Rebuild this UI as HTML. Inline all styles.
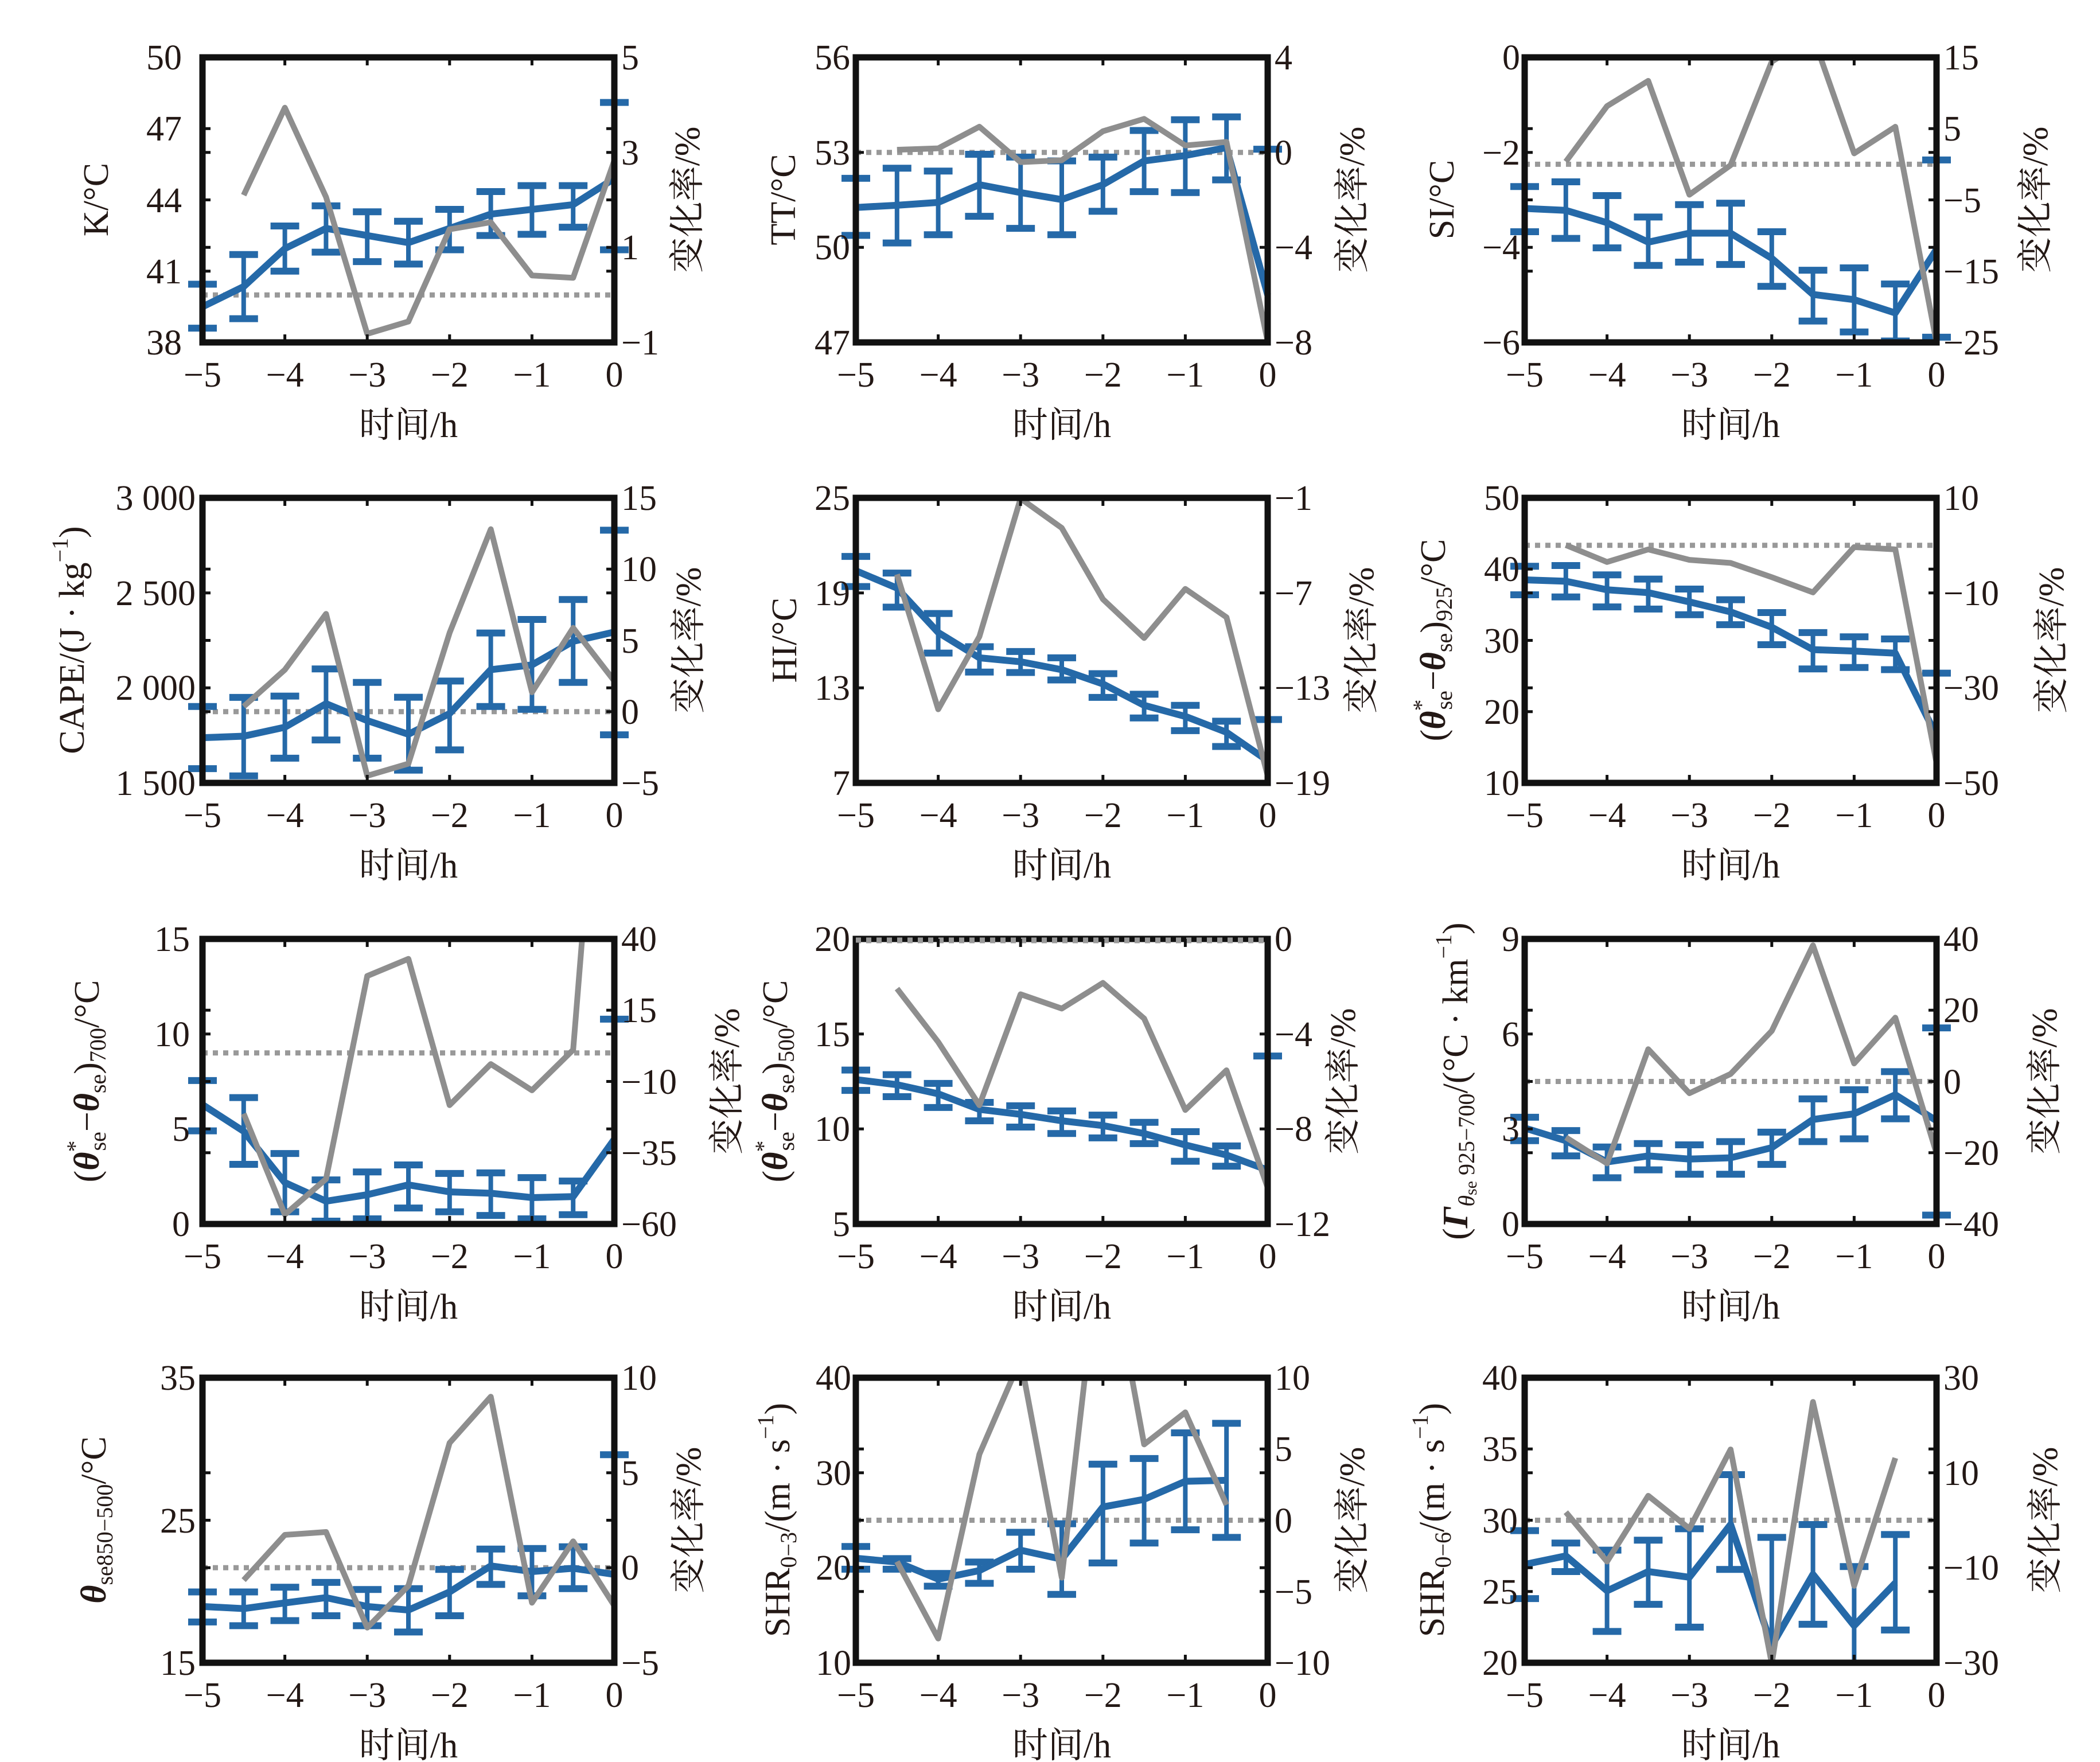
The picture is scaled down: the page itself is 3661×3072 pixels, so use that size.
<!DOCTYPE html>
<html><head><meta charset="utf-8"><style>
html,body{margin:0;padding:0;background:#fff}
svg{display:block}
text{font-family:"Liberation Serif","Noto Serif CJK SC",serif;fill:#231815}
.t{font-size:62px}
.l{font-size:62px}
.b{fill:none;stroke:#2569a8;stroke-width:12;stroke-linejoin:round}
.e{fill:none;stroke:#2569a8;stroke-width:8}
.c{fill:none;stroke:#2569a8;stroke-width:12}
.g{fill:none;stroke:#8e8e8e;stroke-width:10;stroke-linejoin:round}
.d{stroke:#999;stroke-width:9;stroke-dasharray:9 9}
.f{fill:none;stroke:#111;stroke-width:11}
.k{fill:none;stroke:#111;stroke-width:5}
path,polyline{vector-effect:non-scaling-stroke}
</style></head><body>
<svg width="3661" height="3072" viewBox="0 0 3661 3072" xmlns="http://www.w3.org/2000/svg">
<defs><clipPath id="c"><rect x="-40" y="0" width="798" height="497"/></clipPath></defs>

<!-- P1 -->
<g transform="translate(353,100)">
<g clip-path="url(#c)">
<line class="d" x1="0" x2="718" y1="414.2" y2="414.2"/>
<g transform="matrix(143.6 0 0 -41.4167 718 2070.83)">
<path class="e" d="M-5 40.45V38.6M-4.5 41.7V39M-4 42.9V41M-3.5 43.75V41.8M-3 43.5V41.4M-2.5 43.1V41.3M-2 43.6V41.9M-1.5 44.35V42.5M-1 44.6V42.55M-0.5 44.6V42.85M0 48.1V41.9"/>
<path class="c" d="M-5.174 40.45h.348M-5.174 38.6h.348M-4.674 41.7h.348M-4.674 39h.348M-4.174 42.9h.348M-4.174 41h.348M-3.674 43.75h.348M-3.674 41.8h.348M-3.174 43.5h.348M-3.174 41.4h.348M-2.674 43.1h.348M-2.674 41.3h.348M-2.174 43.6h.348M-2.174 41.9h.348M-1.674 44.35h.348M-1.674 42.5h.348M-1.174 44.6h.348M-1.174 42.55h.348M-0.674 44.6h.348M-0.674 42.85h.348M-0.174 48.1h.348M-0.174 41.9h.348"/>
<polyline class="b" points="-5,39.5 -4.5,40.35 -4,41.95 -3.5,42.8 -3,42.5 -2.5,42.2 -2,42.8 -1.5,43.4 -1,43.6 -0.5,43.8 0,44.9"/>
</g>
<g transform="matrix(143.6 0 0 -82.8333 718 414.17)"><polyline class="g" points="-4.5,2.1 -4,3.94 -3.5,2.06 -3,-0.82 -2.5,-0.56 -2,1.38 -1.5,1.53 -1,0.41 -0.5,0.36 0,2.83"/></g>
</g>
<rect class="f" x="0" y="0" width="718" height="497"/>
<path class="k" d="M0 124.25h14M0 165.7h14M0 248.5h14M0 331.3h14M0 372.75h14M718 124.25h-14M718 165.7h-14M718 248.5h-14M718 331.3h-14M718 372.75h-14M143.6 497v-14M287.2 497v-14M430.8 497v-14M574.4 497v-14M143.6 0v14M287.2 0v14M430.8 0v14M574.4 0v14"/>
<g class="t" text-anchor="end"><text x="-36" y="21">50</text><text x="-36" y="145">47</text><text x="-36" y="270">44</text><text x="-36" y="394">41</text><text x="-36" y="518">38</text></g>
<g class="t" text-anchor="start"><text x="730" y="21">5</text><text x="730" y="187">3</text><text x="730" y="352">1</text><text x="730" y="518">−1</text></g>
<g class="t" text-anchor="middle"><text x="0" y="574">−5</text><text x="143.6" y="574">−4</text><text x="287.2" y="574">−3</text><text x="430.8" y="574">−2</text><text x="574.4" y="574">−1</text><text x="718" y="574">0</text><text x="359" y="662">时间/h</text></g>
<text class="l" text-anchor="middle" dominant-baseline="central" transform="translate(-185,248) rotate(-90)">K/°C</text>
<text class="l" text-anchor="middle" dominant-baseline="central" transform="translate(846,248) rotate(-90)">变化率/%</text>
</g>

<!-- P2 -->
<g transform="translate(1492,100)">
<g clip-path="url(#c)">
<line class="d" x1="0" x2="718" y1="165.7" y2="165.7"/>
<g transform="matrix(143.6 0 0 -55.222 718 3092.4)">
<path class="e" d="M-5 52.18V50.38M-4.5 52.5V50.14M-4 52.41V50.4M-3.5 52.94V50.98M-3 52.85V50.6M-2.5 52.73V50.4M-2 52.85V51.14M-1.5 53.69V51.76M-1 54.03V51.73M-0.5 54.12V52.13M0 53.1V43.9"/>
<path class="c" d="M-5.174 52.18h.348M-5.174 50.38h.348M-4.674 52.5h.348M-4.674 50.14h.348M-4.174 52.41h.348M-4.174 50.4h.348M-3.674 52.94h.348M-3.674 50.98h.348M-3.174 52.85h.348M-3.174 50.6h.348M-2.674 52.73h.348M-2.674 50.4h.348M-2.174 52.85h.348M-2.174 51.14h.348M-1.674 53.69h.348M-1.674 51.76h.348M-1.174 54.03h.348M-1.174 51.73h.348M-0.674 54.12h.348M-0.674 52.13h.348M-0.174 53.1h.348"/>
<polyline class="b" points="-5,51.26 -4.5,51.33 -4,51.42 -3.5,51.98 -3,51.73 -2.5,51.51 -2,51.98 -1.5,52.73 -1,52.9 -0.5,53.15 0,48.5"/>
</g>
<g transform="matrix(143.6 0 0 -41.4167 718 165.67)"><polyline class="g" points="-4.5,0.11 -4,0.17 -3.5,1.08 -3,-0.41 -2.5,-0.33 -2,0.89 -1.5,1.41 -1,0.29 -0.5,0.44 0,-7.97"/></g>
</g>
<rect class="f" x="0" y="0" width="718" height="497"/>
<path class="k" d="M0 165.7h14M0 331.3h14M718 165.7h-14M718 331.3h-14M143.6 497v-14M287.2 497v-14M430.8 497v-14M574.4 497v-14M143.6 0v14M287.2 0v14M430.8 0v14M574.4 0v14"/>
<g class="t" text-anchor="end"><text x="-10" y="21">56</text><text x="-10" y="187">53</text><text x="-10" y="352">50</text><text x="-10" y="518">47</text></g>
<g class="t" text-anchor="start"><text x="730" y="21">4</text><text x="730" y="187">0</text><text x="730" y="352">−4</text><text x="730" y="518">−8</text></g>
<g class="t" text-anchor="middle"><text x="0" y="574">−5</text><text x="143.6" y="574">−4</text><text x="287.2" y="574">−3</text><text x="430.8" y="574">−2</text><text x="574.4" y="574">−1</text><text x="718" y="574">0</text><text x="359" y="662">时间/h</text></g>
<text class="l" text-anchor="middle" dominant-baseline="central" transform="translate(-126,248) rotate(-90)">TT/°C</text>
<text class="l" text-anchor="middle" dominant-baseline="central" transform="translate(866,248) rotate(-90)">变化率/%</text>
</g>

<!-- P3 -->
<g transform="translate(2658,100)">
<g clip-path="url(#c)">
<line class="d" x1="0" x2="718" y1="186.4" y2="186.4"/>
<g transform="matrix(143.6 0 0 -82.833 718 0)">
<path class="e" d="M-5 -2.72V-3.67M-4.5 -2.62V-3.81M-4 -2.91V-4.01M-3.5 -3.36V-4.38M-3 -3.1V-4.31M-2.5 -3.07V-4.36M-2 -3.67V-4.82M-1.5 -4.48V-5.55M-1 -4.43V-5.78M-0.5 -4.77V-5.97M0 -2.16V-5.89"/>
<path class="c" d="M-5.174 -2.72h.348M-5.174 -3.67h.348M-4.674 -2.62h.348M-4.674 -3.81h.348M-4.174 -2.91h.348M-4.174 -4.01h.348M-3.674 -3.36h.348M-3.674 -4.38h.348M-3.174 -3.1h.348M-3.174 -4.31h.348M-2.674 -3.07h.348M-2.674 -4.36h.348M-2.174 -3.67h.348M-2.174 -4.82h.348M-1.674 -4.48h.348M-1.674 -5.55h.348M-1.174 -4.43h.348M-1.174 -5.78h.348M-0.674 -4.77h.348M-0.674 -5.97h.348M-0.174 -2.16h.348M-0.174 -5.89h.348"/>
<polyline class="b" points="-5,-3.18 -4.5,-3.22 -4,-3.48 -3.5,-3.89 -3,-3.7 -2.5,-3.7 -2,-4.23 -1.5,-4.99 -1,-5.1 -0.5,-5.38 0,-4.04"/>
</g>
<g transform="matrix(143.6 0 0 -12.425 718 186.4)"><polyline class="g" points="-4.5,0.37 -4,8.16 -3.5,11.7 -3,-4.27 -2.5,-0.13 -2,14.4 -1.5,18 -1,1.53 -0.5,5.26 0,-25"/></g>
</g>
<rect class="f" x="0" y="0" width="718" height="497"/>
<path class="k" d="M0 124.25h14M0 165.7h14M0 248.5h14M0 331.3h14M0 372.75h14M718 124.25h-14M718 165.7h-14M718 248.5h-14M718 331.3h-14M718 372.75h-14M143.6 497v-14M287.2 497v-14M430.8 497v-14M574.4 497v-14M143.6 0v14M287.2 0v14M430.8 0v14M574.4 0v14"/>
<g class="t" text-anchor="end"><text x="-8" y="21">0</text><text x="-8" y="187">−2</text><text x="-8" y="352">−4</text><text x="-8" y="518">−6</text></g>
<g class="t" text-anchor="start"><text x="730" y="21">15</text><text x="730" y="145">5</text><text x="730" y="270">−5</text><text x="730" y="394">−15</text><text x="730" y="518">−25</text></g>
<g class="t" text-anchor="middle"><text x="0" y="574">−5</text><text x="143.6" y="574">−4</text><text x="287.2" y="574">−3</text><text x="430.8" y="574">−2</text><text x="574.4" y="574">−1</text><text x="718" y="574">0</text><text x="359" y="662">时间/h</text></g>
<text class="l" text-anchor="middle" dominant-baseline="central" transform="translate(-144,248) rotate(-90)">SI/°C</text>
<text class="l" text-anchor="middle" dominant-baseline="central" transform="translate(891,248) rotate(-90)">变化率/%</text>
</g>

<!-- P4 -->
<g transform="translate(353,868)">
<g clip-path="url(#c)">
<line class="d" x1="0" x2="718" y1="372.75" y2="372.75"/>
<g transform="matrix(143.6 0 0 -0.331333 718 994)">
<path class="e" d="M-5 1902V1575M-4.5 1950V1537M-4 1957V1630M-3.5 2100V1726M-3 2029V1630M-2.5 1951V1567M-2 2036V1674M-1.5 2289V1902M-1 2360V1887M-0.5 2465V2029M0 2830V1753"/>
<path class="c" d="M-5.174 1902h.348M-5.174 1575h.348M-4.674 1950h.348M-4.674 1537h.348M-4.174 1957h.348M-4.174 1630h.348M-3.674 2100h.348M-3.674 1726h.348M-3.174 2029h.348M-3.174 1630h.348M-2.674 1951h.348M-2.674 1567h.348M-2.174 2036h.348M-2.174 1674h.348M-1.674 2289h.348M-1.674 1902h.348M-1.174 2360h.348M-1.174 1887h.348M-0.674 2465h.348M-0.674 2029h.348M-0.174 2830h.348M-0.174 1753h.348"/>
<polyline class="b" points="-5,1738 -4.5,1746 -4,1793 -3.5,1917 -3,1828 -2.5,1756 -2,1865 -1.5,2096 -1,2121 -0.5,2245 0,2294"/>
</g>
<g transform="matrix(143.6 0 0 -24.85 718 372.75)"><polyline class="g" points="-4.5,0.36 -4,2.94 -3.5,6.86 -3,-4.5 -2.5,-3.65 -2,5.53 -1.5,12.8 -1,1.36 -0.5,5.88 0,2.15"/></g>
</g>
<rect class="f" x="0" y="0" width="718" height="497"/>
<path class="k" d="M0 124.25h14M0 165.7h14M0 248.5h14M0 331.3h14M0 372.75h14M718 124.25h-14M718 165.7h-14M718 248.5h-14M718 331.3h-14M718 372.75h-14M143.6 497v-14M287.2 497v-14M430.8 497v-14M574.4 497v-14M143.6 0v14M287.2 0v14M430.8 0v14M574.4 0v14"/>
<g class="t" text-anchor="end"><text x="-12" y="21">3 000</text><text x="-12" y="187">2 500</text><text x="-12" y="352">2 000</text><text x="-12" y="518">1 500</text></g>
<g class="t" text-anchor="start"><text x="730" y="21">15</text><text x="730" y="145">10</text><text x="730" y="270">5</text><text x="730" y="394">0</text><text x="730" y="518">−5</text></g>
<g class="t" text-anchor="middle"><text x="0" y="574">−5</text><text x="143.6" y="574">−4</text><text x="287.2" y="574">−3</text><text x="430.8" y="574">−2</text><text x="574.4" y="574">−1</text><text x="718" y="574">0</text><text x="359" y="662">时间/h</text></g>
<text class="l" text-anchor="middle" dominant-baseline="central" transform="translate(-227,248) rotate(-90)">CAPE/(J · kg<tspan font-size="40" dy="-22">−1</tspan><tspan dy="22">)</tspan></text>
<text class="l" text-anchor="middle" dominant-baseline="central" transform="translate(848,248) rotate(-90)">变化率/%</text>
</g>

<!-- P5 -->
<g transform="translate(1492,868)">
<g clip-path="url(#c)">
<g transform="matrix(143.6 0 0 -27.611 718 690.28)">
<path class="e" d="M-5 21.3V19.4M-4.5 20.25V18.1M-4 17.7V15.2M-3.5 15.6V14M-3 15.3V13.97M-2.5 14.9V13.5M-2 13.9V12.4M-1.5 12.6V11.1M-1 11.9V10.3M-0.5 10.9V9.3M0 11V5.8"/>
<path class="c" d="M-5.174 21.3h.348M-5.174 19.4h.348M-4.674 20.25h.348M-4.674 18.1h.348M-4.174 17.7h.348M-4.174 15.2h.348M-3.674 15.6h.348M-3.674 14h.348M-3.174 15.3h.348M-3.174 13.97h.348M-2.674 14.9h.348M-2.674 13.5h.348M-2.174 13.9h.348M-2.174 12.4h.348M-1.674 12.6h.348M-1.674 11.1h.348M-1.174 11.9h.348M-1.174 10.3h.348M-0.674 10.9h.348M-0.674 9.3h.348M-0.174 11h.348"/>
<polyline class="b" points="-5,20.4 -4.5,19.3 -4,16.5 -3.5,14.9 -3,14.65 -2.5,14.15 -2,13.25 -1.5,11.9 -1,11.2 -0.5,10.2 0,8.4"/>
</g>
<g transform="matrix(143.6 0 0 -27.611 718 -27.61)"><polyline class="g" points="-4.5,-5.83 -4,-14.35 -3.5,-9.76 -3,-1.04 -2.5,-2.9 -2,-7.4 -1.5,-9.85 -1,-6.75 -0.5,-8.54 0,-18.55"/></g>
</g>
<rect class="f" x="0" y="0" width="718" height="497"/>
<path class="k" d="M0 165.7h14M0 331.3h14M718 165.7h-14M718 331.3h-14M143.6 497v-14M287.2 497v-14M430.8 497v-14M574.4 497v-14M143.6 0v14M287.2 0v14M430.8 0v14M574.4 0v14"/>
<g class="t" text-anchor="end"><text x="-10" y="21">25</text><text x="-10" y="187">19</text><text x="-10" y="352">13</text><text x="-10" y="518">7</text></g>
<g class="t" text-anchor="start"><text x="730" y="21">−1</text><text x="730" y="187">−7</text><text x="730" y="352">−13</text><text x="730" y="518">−19</text></g>
<g class="t" text-anchor="middle"><text x="0" y="574">−5</text><text x="143.6" y="574">−4</text><text x="287.2" y="574">−3</text><text x="430.8" y="574">−2</text><text x="574.4" y="574">−1</text><text x="718" y="574">0</text><text x="359" y="662">时间/h</text></g>
<text class="l" text-anchor="middle" dominant-baseline="central" transform="translate(-124,248) rotate(-90)">HI/°C</text>
<text class="l" text-anchor="middle" dominant-baseline="central" transform="translate(882,248) rotate(-90)">变化率/%</text>
</g>

<!-- P6 -->
<g transform="translate(2658,868)">
<g clip-path="url(#c)">
<line class="d" x1="0" x2="718" y1="82.8" y2="82.8"/>
<g transform="matrix(143.6 0 0 -12.425 718 621.25)">
<path class="e" d="M-5 40.4V36.4M-4.5 40.5V36.1M-4 39.2V34.7M-3.5 38.6V34.4M-3 37.2V33.6M-2.5 35.7V32.2M-2 33.9V29.4M-1.5 31.1V26M-1 30.5V26.2M-0.5 30.2V25.9M0 25.4V7.8"/>
<path class="c" d="M-5.174 40.4h.348M-5.174 36.4h.348M-4.674 40.5h.348M-4.674 36.1h.348M-4.174 39.2h.348M-4.174 34.7h.348M-3.674 38.6h.348M-3.674 34.4h.348M-3.174 37.2h.348M-3.174 33.6h.348M-2.674 35.7h.348M-2.674 32.2h.348M-2.174 33.9h.348M-2.174 29.4h.348M-1.674 31.1h.348M-1.674 26h.348M-1.174 30.5h.348M-1.174 26.2h.348M-0.674 30.2h.348M-0.674 25.9h.348M-0.174 25.4h.348"/>
<polyline class="b" points="-5,38.5 -4.5,38.3 -4,37.1 -3.5,36.7 -3,35.4 -2.5,34 -2,31.85 -1.5,28.7 -1,28.5 -0.5,28.2 0,16.6"/>
</g>
<g transform="matrix(143.6 0 0 -8.2833 718 82.83)"><polyline class="g" points="-4.5,0.05 -4,-3.5 -3.5,-0.85 -3,-3.05 -2.5,-3.7 -2,-6.7 -1.5,-9.9 -1,-0.37 -0.5,-0.85 0,-45.8"/></g>
</g>
<rect class="f" x="0" y="0" width="718" height="497"/>
<path class="k" d="M0 124.25h14M0 165.7h14M0 248.5h14M0 331.3h14M0 372.75h14M718 124.25h-14M718 165.7h-14M718 248.5h-14M718 331.3h-14M718 372.75h-14M143.6 497v-14M287.2 497v-14M430.8 497v-14M574.4 497v-14M143.6 0v14M287.2 0v14M430.8 0v14M574.4 0v14"/>
<g class="t" text-anchor="end"><text x="-9" y="21">50</text><text x="-9" y="145">40</text><text x="-9" y="270">30</text><text x="-9" y="394">20</text><text x="-9" y="518">10</text></g>
<g class="t" text-anchor="start"><text x="730" y="21">10</text><text x="730" y="187">−10</text><text x="730" y="352">−30</text><text x="730" y="518">−50</text></g>
<g class="t" text-anchor="middle"><text x="0" y="574">−5</text><text x="143.6" y="574">−4</text><text x="287.2" y="574">−3</text><text x="430.8" y="574">−2</text><text x="574.4" y="574">−1</text><text x="718" y="574">0</text><text x="359" y="662">时间/h</text></g>
<text class="l" text-anchor="middle" dominant-baseline="central" transform="translate(-159,248) rotate(-90)">(<tspan font-style="italic" font-weight="bold">θ</tspan><tspan font-size="40" dy="-22">*</tspan><tspan font-size="40" dx="-18" dy="40">se</tspan><tspan dy="-18">−</tspan><tspan font-style="italic" font-weight="bold">θ</tspan><tspan font-size="40" dy="18">se</tspan><tspan dy="-18">)</tspan><tspan font-size="40" dy="18">925</tspan><tspan dy="-18">/°C</tspan></text>
<text class="l" text-anchor="middle" dominant-baseline="central" transform="translate(919,248) rotate(-90)">变化率/%</text>
</g>

<!-- P7 -->
<g transform="translate(353,1637)">
<g clip-path="url(#c)">
<line class="d" x1="0" x2="718" y1="198.8" y2="198.8"/>
<g transform="matrix(143.6 0 0 -33.133 718 497)">
<path class="e" d="M-5 7.55V4.9M-4.5 6.65V3.14M-4 3.71V0.64M-3.5 2.32V0.15M-3 2.74V0.27M-2.5 3.11V0.84M-2 2.66V0.64M-1.5 2.69V0.45M-1 2.44V0.27M-0.5 2.26V0.49M0 10.78V-1.9"/>
<path class="c" d="M-5.174 7.55h.348M-5.174 4.9h.348M-4.674 6.65h.348M-4.674 3.14h.348M-4.174 3.71h.348M-4.174 0.64h.348M-3.674 2.32h.348M-3.674 0.15h.348M-3.174 2.74h.348M-3.174 0.27h.348M-2.674 3.11h.348M-2.674 0.84h.348M-2.174 2.66h.348M-2.174 0.64h.348M-1.674 2.69h.348M-1.674 0.45h.348M-1.174 2.44h.348M-1.174 0.27h.348M-0.674 2.26h.348M-0.674 0.49h.348M-0.174 10.78h.348"/>
<polyline class="b" points="-5,6.28 -4.5,4.88 -4,2.18 -3.5,1.2 -3,1.54 -2.5,2.06 -2,1.69 -1.5,1.62 -1,1.39 -0.5,1.44 0,4.46"/>
</g>
<g transform="matrix(143.6 0 0 -4.97 718 198.8)"><polyline class="g" points="-4.5,-21.3 -4,-56.7 -3.5,-44.2 -3,27 -2.5,33 -2,-18.3 -1.5,-3.9 -1,-13.1 -0.5,1.1 0,180"/></g>
</g>
<rect class="f" x="0" y="0" width="718" height="497"/>
<path class="k" d="M0 124.25h14M0 165.7h14M0 248.5h14M0 331.3h14M0 372.75h14M718 124.25h-14M718 165.7h-14M718 248.5h-14M718 331.3h-14M718 372.75h-14M143.6 497v-14M287.2 497v-14M430.8 497v-14M574.4 497v-14M143.6 0v14M287.2 0v14M430.8 0v14M574.4 0v14"/>
<g class="t" text-anchor="end"><text x="-22" y="21">15</text><text x="-22" y="187">10</text><text x="-22" y="352">5</text><text x="-22" y="518">0</text></g>
<g class="t" text-anchor="start"><text x="730" y="21">40</text><text x="730" y="145">15</text><text x="730" y="270">−10</text><text x="730" y="394">−35</text><text x="730" y="518">−60</text></g>
<g class="t" text-anchor="middle"><text x="0" y="574">−5</text><text x="143.6" y="574">−4</text><text x="287.2" y="574">−3</text><text x="430.8" y="574">−2</text><text x="574.4" y="574">−1</text><text x="718" y="574">0</text><text x="359" y="662">时间/h</text></g>
<text class="l" text-anchor="middle" dominant-baseline="central" transform="translate(-201,248) rotate(-90)">(<tspan font-style="italic" font-weight="bold">θ</tspan><tspan font-size="40" dy="-22">*</tspan><tspan font-size="40" dx="-18" dy="40">se</tspan><tspan dy="-18">−</tspan><tspan font-style="italic" font-weight="bold">θ</tspan><tspan font-size="40" dy="18">se</tspan><tspan dy="-18">)</tspan><tspan font-size="40" dy="18">700</tspan><tspan dy="-18">/°C</tspan></text>
<text class="l" text-anchor="middle" dominant-baseline="central" transform="translate(915,248) rotate(-90)">变化率/%</text>
</g>

<!-- P8 -->
<g transform="translate(1492,1637)">
<g clip-path="url(#c)">
<line class="d" x1="0" x2="718" y1="3" y2="3"/>
<g transform="matrix(143.6 0 0 -33.133 718 662.67)">
<path class="e" d="M-5 13.1V12.03M-4.5 12.86V11.7M-4 12.4V11.13M-3.5 11.4V10.43M-3 11.22V10.1M-2.5 10.95V9.76M-2 10.73V9.53M-1.5 10.35V9.23M-1 9.86V8.3M-0.5 9.11V8.04M0 13.84V1.8"/>
<path class="c" d="M-5.174 13.1h.348M-5.174 12.03h.348M-4.674 12.86h.348M-4.674 11.7h.348M-4.174 12.4h.348M-4.174 11.13h.348M-3.674 11.4h.348M-3.674 10.43h.348M-3.174 11.22h.348M-3.174 10.1h.348M-2.674 10.95h.348M-2.674 9.76h.348M-2.174 10.73h.348M-2.174 9.53h.348M-1.674 10.35h.348M-1.674 9.23h.348M-1.174 9.86h.348M-1.174 8.3h.348M-0.674 9.11h.348M-0.674 8.04h.348M-0.174 13.84h.348"/>
<polyline class="b" points="-5,12.6 -4.5,12.33 -4,11.85 -3.5,11.03 -3,10.77 -2.5,10.43 -2,10.18 -1.5,9.76 -1,9.16 -0.5,8.63 0,7.84"/>
</g>
<g transform="matrix(143.6 0 0 -41.4167 718 0)"><polyline class="g" points="-4.5,-2.09 -4,-4.34 -3.5,-7 -3,-2.33 -2.5,-2.93 -2,-1.85 -1.5,-3.35 -1,-7.2 -0.5,-5.53 0,-10.47"/></g>
</g>
<rect class="f" x="0" y="0" width="718" height="497"/>
<line class="d" x1="0" x2="718" y1="2" y2="2"/>
<path class="k" d="M0 165.7h14M0 331.3h14M718 165.7h-14M718 331.3h-14M143.6 497v-14M287.2 497v-14M430.8 497v-14M574.4 497v-14M143.6 0v14M287.2 0v14M430.8 0v14M574.4 0v14"/>
<g class="t" text-anchor="end"><text x="-10" y="21">20</text><text x="-10" y="187">15</text><text x="-10" y="352">10</text><text x="-10" y="518">5</text></g>
<g class="t" text-anchor="start"><text x="730" y="21">0</text><text x="730" y="187">−4</text><text x="730" y="352">−8</text><text x="730" y="518">−12</text></g>
<g class="t" text-anchor="middle"><text x="0" y="574">−5</text><text x="143.6" y="574">−4</text><text x="287.2" y="574">−3</text><text x="430.8" y="574">−2</text><text x="574.4" y="574">−1</text><text x="718" y="574">0</text><text x="359" y="662">时间/h</text></g>
<text class="l" text-anchor="middle" dominant-baseline="central" transform="translate(-140,248) rotate(-90)">(<tspan font-style="italic" font-weight="bold">θ</tspan><tspan font-size="40" dy="-22">*</tspan><tspan font-size="40" dx="-18" dy="40">se</tspan><tspan dy="-18">−</tspan><tspan font-style="italic" font-weight="bold">θ</tspan><tspan font-size="40" dy="18">se</tspan><tspan dy="-18">)</tspan><tspan font-size="40" dy="18">500</tspan><tspan dy="-18">/°C</tspan></text>
<text class="l" text-anchor="middle" dominant-baseline="central" transform="translate(850,248) rotate(-90)">变化率/%</text>
</g>

<!-- P9 -->
<g transform="translate(2658,1637)">
<g clip-path="url(#c)">
<line class="d" x1="0" x2="718" y1="248.5" y2="248.5"/>
<g transform="matrix(143.6 0 0 -55.222 718 497)">
<path class="e" d="M-5 3.37V2.63M-4.5 2.95V2.15M-4 2.43V1.46M-3.5 2.54V1.71M-3 2.5V1.57M-2.5 2.6V1.57M-2 2.9V1.88M-1.5 3.95V2.6M-1 4.24V2.69M-0.5 4.81V3.32M0 6.19V0.28"/>
<path class="c" d="M-5.174 3.37h.348M-5.174 2.63h.348M-4.674 2.95h.348M-4.674 2.15h.348M-4.174 2.43h.348M-4.174 1.46h.348M-3.674 2.54h.348M-3.674 1.71h.348M-3.174 2.5h.348M-3.174 1.57h.348M-2.674 2.6h.348M-2.674 1.57h.348M-2.174 2.9h.348M-2.174 1.88h.348M-1.674 3.95h.348M-1.674 2.6h.348M-1.174 4.24h.348M-1.174 2.69h.348M-0.674 4.81h.348M-0.674 3.32h.348M-0.174 6.19h.348M-0.174 0.28h.348"/>
<polyline class="b" points="-5,3.03 -4.5,2.63 -4,1.96 -3.5,2.15 -3,2.05 -2.5,2.09 -2,2.41 -1.5,3.3 -1,3.48 -0.5,4.08 0,3.26"/>
</g>
<g transform="matrix(143.6 0 0 -6.2125 718 248.5)"><polyline class="g" points="-4.5,-15.7 -4,-23 -3.5,9.05 -3,-3.3 -2.5,2.1 -2,14.2 -1.5,38.2 -1,5.06 -0.5,17.9 0,-20.2"/></g>
</g>
<rect class="f" x="0" y="0" width="718" height="497"/>
<path class="k" d="M0 124.25h14M0 165.7h14M0 248.5h14M0 331.3h14M0 372.75h14M718 124.25h-14M718 165.7h-14M718 248.5h-14M718 331.3h-14M718 372.75h-14M143.6 497v-14M287.2 497v-14M430.8 497v-14M574.4 497v-14M143.6 0v14M287.2 0v14M430.8 0v14M574.4 0v14"/>
<g class="t" text-anchor="end"><text x="-9" y="21">9</text><text x="-9" y="187">6</text><text x="-9" y="352">3</text><text x="-9" y="518">0</text></g>
<g class="t" text-anchor="start"><text x="730" y="21">40</text><text x="730" y="145">20</text><text x="730" y="270">0</text><text x="730" y="394">−20</text><text x="730" y="518">−40</text></g>
<g class="t" text-anchor="middle"><text x="0" y="574">−5</text><text x="143.6" y="574">−4</text><text x="287.2" y="574">−3</text><text x="430.8" y="574">−2</text><text x="574.4" y="574">−1</text><text x="718" y="574">0</text><text x="359" y="662">时间/h</text></g>
<text class="l" text-anchor="middle" dominant-baseline="central" transform="translate(-120,248) rotate(-90)">(<tspan font-style="italic" font-weight="bold">Γ</tspan><tspan font-size="40" dy="18" font-style="italic">θ</tspan><tspan font-size="30" dy="8">se</tspan><tspan font-size="40" dy="-8"> 925−700</tspan><tspan dy="-18">/(°C · km</tspan><tspan font-size="40" dy="-22">−1</tspan><tspan dy="22">)</tspan></text>
<text class="l" text-anchor="middle" dominant-baseline="central" transform="translate(907,248) rotate(-90)">变化率/%</text>
</g>

<!-- P10 -->
<g transform="translate(353,2402)">
<g clip-path="url(#c)">
<line class="d" x1="0" x2="718" y1="331.3" y2="331.3"/>
<g transform="matrix(143.6 0 0 -24.85 718 869.75)">
<path class="e" d="M-5 19.97V17.86M-4.5 19.97V17.6M-4 20.3V17.96M-3.5 20.64V18.3M-3 20.14V17.6M-2.5 20.2V17.16M-2 21.55V18.3M-1.5 22.98V20.5M-1 23.02V19.7M-0.5 23.14V20.2M0 29.6V12.8"/>
<path class="c" d="M-5.174 19.97h.348M-5.174 17.86h.348M-4.674 19.97h.348M-4.674 17.6h.348M-4.174 20.3h.348M-4.174 17.96h.348M-3.674 20.64h.348M-3.674 18.3h.348M-3.174 20.14h.348M-3.174 17.6h.348M-2.674 20.2h.348M-2.674 17.16h.348M-2.174 21.55h.348M-2.174 18.3h.348M-1.674 22.98h.348M-1.674 20.5h.348M-1.174 23.02h.348M-1.174 19.7h.348M-0.674 23.14h.348M-0.674 20.2h.348M-0.174 29.6h.348"/>
<polyline class="b" points="-5,18.95 -4.5,18.8 -4,19.2 -3.5,19.57 -3,18.95 -2.5,18.7 -2,19.97 -1.5,21.8 -1,21.4 -0.5,21.63 0,21.2"/>
</g>
<g transform="matrix(143.6 0 0 -33.133 718 331.33)"><polyline class="g" points="-4.5,-0.65 -4,1.73 -3.5,1.88 -3,-3.15 -2.5,-0.95 -2,6.57 -1.5,9 -1,-1.84 -0.5,1.39 0,-2"/></g>
</g>
<rect class="f" x="0" y="0" width="718" height="497"/>
<path class="k" d="M0 165.7h14M0 248.5h14M0 331.3h14M718 165.7h-14M718 248.5h-14M718 331.3h-14M143.6 497v-14M287.2 497v-14M430.8 497v-14M574.4 497v-14M143.6 0v14M287.2 0v14M430.8 0v14M574.4 0v14"/>
<g class="t" text-anchor="end"><text x="-12" y="21">35</text><text x="-12" y="270">25</text><text x="-12" y="518">15</text></g>
<g class="t" text-anchor="start"><text x="730" y="21">10</text><text x="730" y="187">5</text><text x="730" y="352">0</text><text x="730" y="518">−5</text></g>
<g class="t" text-anchor="middle"><text x="0" y="574">−5</text><text x="143.6" y="574">−4</text><text x="287.2" y="574">−3</text><text x="430.8" y="574">−2</text><text x="574.4" y="574">−1</text><text x="718" y="574">0</text><text x="359" y="662">时间/h</text></g>
<text class="l" text-anchor="middle" dominant-baseline="central" transform="translate(-189,248) rotate(-90)"><tspan font-style="italic" font-weight="bold">θ</tspan><tspan font-size="40" dy="18">se850−500</tspan><tspan dy="-18">/°C</tspan></text>
<text class="l" text-anchor="middle" dominant-baseline="central" transform="translate(848,248) rotate(-90)">变化率/%</text>
</g>

<!-- P11 -->
<g transform="translate(1492,2402)">
<g clip-path="url(#c)">
<line class="d" x1="0" x2="718" y1="248.5" y2="248.5"/>
<g transform="matrix(143.6 0 0 -16.5667 718 662.67)">
<path class="e" d="M-5 22.24V19.85M-4.5 20.96V19.85M-4 19.4V18.06M-3.5 20.6V18.36M-3 23.73V19.85M-2.5 24.63V17.2M-2 30.9V20.5M-1.5 31.5V22.6M-1 34.2V24M-0.5 35.2V23.2"/>
<path class="c" d="M-5.174 22.24h.348M-5.174 19.85h.348M-4.674 20.96h.348M-4.674 19.85h.348M-4.174 19.4h.348M-4.174 18.06h.348M-3.674 20.6h.348M-3.674 18.36h.348M-3.174 23.73h.348M-3.174 19.85h.348M-2.674 24.63h.348M-2.674 17.2h.348M-2.174 30.9h.348M-2.174 20.5h.348M-1.674 31.5h.348M-1.674 22.6h.348M-1.174 34.2h.348M-1.174 24h.348M-0.674 35.2h.348M-0.674 23.2h.348"/>
<polyline class="b" points="-5,21 -4.5,20.6 -4,18.8 -3.5,19.7 -3,21.85 -2.5,20.9 -2,26.4 -1.5,27.2 -1,29.1 -0.5,29.2"/>
</g>
<g transform="matrix(143.6 0 0 -24.85 718 248.5)"><polyline class="g" points="-4.5,-2.9 -4,-8.3 -3.5,4.63 -3,11.3 -2.5,-4.03 -2,21 -1.5,5.32 -1,7.57 -0.5,1.08"/></g>
</g>
<rect class="f" x="0" y="0" width="718" height="497"/>
<path class="k" d="M0 124.25h14M0 165.7h14M0 248.5h14M0 331.3h14M0 372.75h14M718 124.25h-14M718 165.7h-14M718 248.5h-14M718 331.3h-14M718 372.75h-14M143.6 497v-14M287.2 497v-14M430.8 497v-14M574.4 497v-14M143.6 0v14M287.2 0v14M430.8 0v14M574.4 0v14"/>
<g class="t" text-anchor="end"><text x="-8" y="21">40</text><text x="-8" y="187">30</text><text x="-8" y="352">20</text><text x="-8" y="518">10</text></g>
<g class="t" text-anchor="start"><text x="730" y="21">10</text><text x="730" y="145">5</text><text x="730" y="270">0</text><text x="730" y="394">−5</text><text x="730" y="518">−10</text></g>
<g class="t" text-anchor="middle"><text x="0" y="574">−5</text><text x="143.6" y="574">−4</text><text x="287.2" y="574">−3</text><text x="430.8" y="574">−2</text><text x="574.4" y="574">−1</text><text x="718" y="574">0</text><text x="359" y="662">时间/h</text></g>
<text class="l" text-anchor="middle" dominant-baseline="central" transform="translate(-136,248) rotate(-90)">SHR<tspan font-size="40" dy="18">0−3</tspan><tspan dy="-18">/(m · s</tspan><tspan font-size="40" dy="-22">−1</tspan><tspan dy="22">)</tspan></text>
<text class="l" text-anchor="middle" dominant-baseline="central" transform="translate(866,248) rotate(-90)">变化率/%</text>
</g>

<!-- P12 -->
<g transform="translate(2658,2402)">
<g clip-path="url(#c)">
<line class="d" x1="0" x2="718" y1="248.5" y2="248.5"/>
<g transform="matrix(143.6 0 0 -24.85 718 994)">
<path class="e" d="M-5 29.27V24.5M-4.5 28.4V26.4M-4 27.9V22.2M-3.5 28.6V24.1M-3 29.4V22.5M-2.5 33.2V26.55M-2 28.8V13.6M-1.5 29.7V22.7M-1 26.75V18.5M-0.5 29V22.3"/>
<path class="c" d="M-5.174 29.27h.348M-5.174 24.5h.348M-4.674 28.4h.348M-4.674 26.4h.348M-4.174 27.9h.348M-4.174 22.2h.348M-3.674 28.6h.348M-3.674 24.1h.348M-3.174 29.4h.348M-3.174 22.5h.348M-2.674 33.2h.348M-2.674 26.55h.348M-2.174 28.8h.348M-1.674 29.7h.348M-1.674 22.7h.348M-1.174 26.75h.348M-0.674 29h.348M-0.674 22.3h.348"/>
<polyline class="b" points="-5,26.9 -4.5,27.5 -4,25.05 -3.5,26.4 -3,26 -2.5,29.7 -2,21.2 -1.5,26.2 -1,22.6 -0.5,25.6"/>
</g>
<g transform="matrix(143.6 0 0 -8.2833 718 248.5)"><polyline class="g" points="-4.5,1.7 -4,-8.7 -3.5,5.15 -3,-1.76 -2.5,14.9 -2,-30.2 -1.5,24.9 -1,-13.8 -0.5,13.1"/></g>
</g>
<rect class="f" x="0" y="0" width="718" height="497"/>
<path class="k" d="M0 124.25h14M0 165.7h14M0 248.5h14M0 331.3h14M0 372.75h14M718 124.25h-14M718 165.7h-14M718 248.5h-14M718 331.3h-14M718 372.75h-14M143.6 497v-14M287.2 497v-14M430.8 497v-14M574.4 497v-14M143.6 0v14M287.2 0v14M430.8 0v14M574.4 0v14"/>
<g class="t" text-anchor="end"><text x="-12" y="21">40</text><text x="-12" y="145">35</text><text x="-12" y="270">30</text><text x="-12" y="394">25</text><text x="-12" y="518">20</text></g>
<g class="t" text-anchor="start"><text x="730" y="21">30</text><text x="730" y="187">10</text><text x="730" y="352">−10</text><text x="730" y="518">−30</text></g>
<g class="t" text-anchor="middle"><text x="0" y="574">−5</text><text x="143.6" y="574">−4</text><text x="287.2" y="574">−3</text><text x="430.8" y="574">−2</text><text x="574.4" y="574">−1</text><text x="718" y="574">0</text><text x="359" y="662">时间/h</text></g>
<text class="l" text-anchor="middle" dominant-baseline="central" transform="translate(-161,248) rotate(-90)">SHR<tspan font-size="40" dy="18">0−6</tspan><tspan dy="-18">/(m · s</tspan><tspan font-size="40" dy="-22">−1</tspan><tspan dy="22">)</tspan></text>
<text class="l" text-anchor="middle" dominant-baseline="central" transform="translate(908,248) rotate(-90)">变化率/%</text>
</g>

</svg>
</body></html>
